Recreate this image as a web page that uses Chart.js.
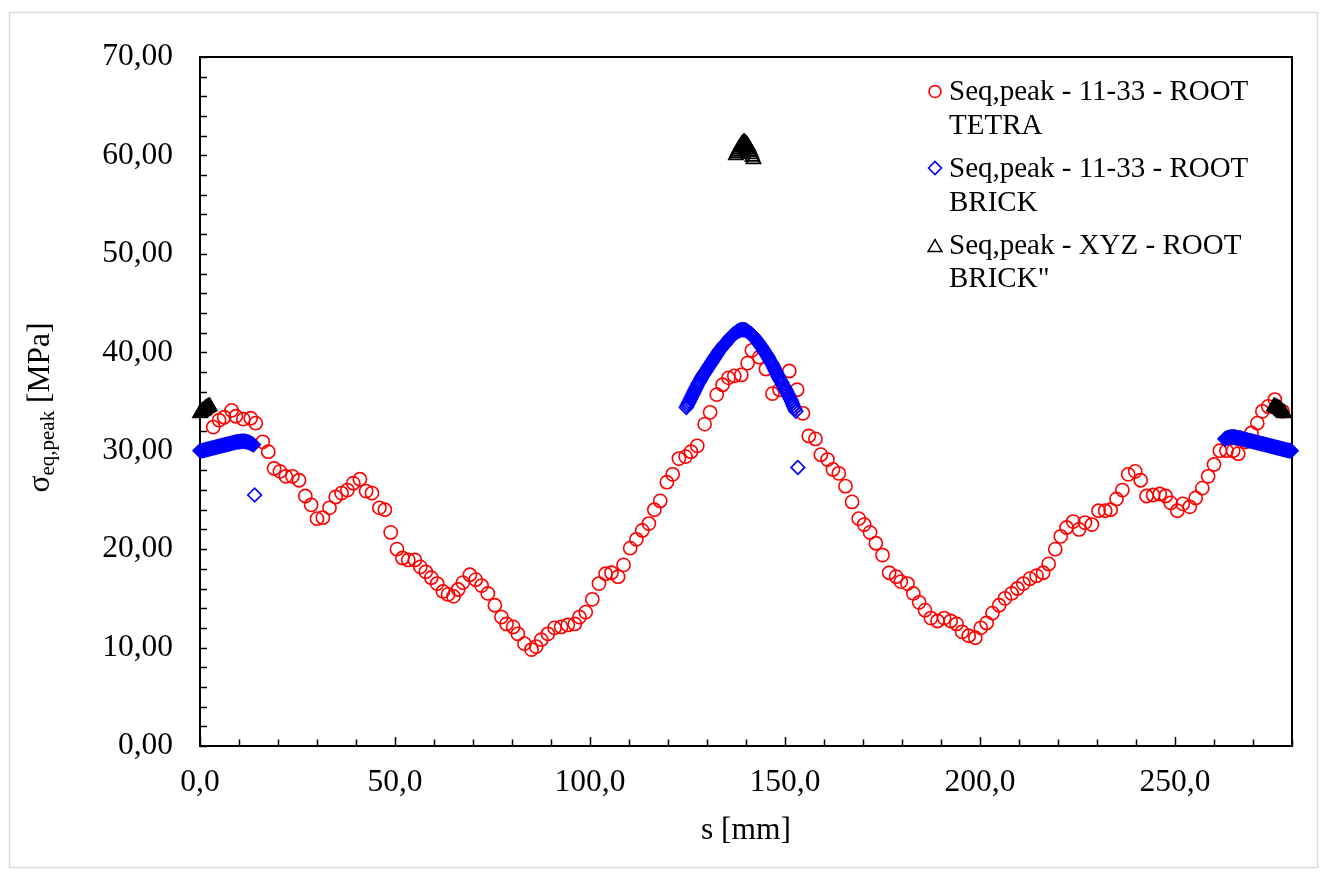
<!DOCTYPE html>
<html>
<head>
<meta charset="utf-8">
<script src="https://cdn.jsdelivr.net/npm/chart.js@4/dist/chart.umd.min.js"></script>
<style>
  html, body { margin: 0; padding: 0; background: #ffffff; }
  #wrap { width: 1327px; height: 872px; position: relative; }
</style>
</head>
<body>
<div id="wrap"><canvas id="c" width="1327" height="872"></canvas></div>
<script>
// Seq,peak along the path s, TETRA model (red circles)
const tetraS = [3.4, 4.9, 6.2, 8.1, 9.2, 11.1, 13.0, 14.3, 16.1, 17.5, 19.0, 20.5, 22.0, 23.7, 25.4, 27.0, 28.5, 30.0, 31.5, 33.2,
  34.8, 36.3, 37.8, 39.3, 41.0, 42.6, 44.1, 46.0, 47.4, 48.9, 50.5, 51.9, 53.4, 55.1, 56.5, 57.9, 59.3, 60.8, 62.3, 63.6,
  65.0, 66.2, 67.4, 69.2, 70.7, 72.2, 73.8, 75.6, 77.3, 78.6, 80.3, 81.5, 83.2, 85.0, 86.2, 87.5, 89.2, 90.9, 92.6, 94.3,
  96.1, 97.3, 98.9, 100.6, 102.3, 104.0, 105.5, 107.2, 108.6, 110.3, 111.9, 113.4, 115.1, 116.5, 118.0, 119.7, 121.2, 122.8, 124.5, 125.9,
  127.5, 129.4, 130.8, 132.5, 134.0, 135.5, 137.0, 138.8, 140.4, 141.5, 143.4, 145.1, 146.8, 148.6, 151.1, 153.1, 154.6, 156.1, 157.8, 159.2,
  160.9, 162.3, 163.8, 165.5, 167.2, 168.9, 170.3, 171.8, 173.3, 175.0, 176.7, 178.5, 179.7, 181.4, 182.9, 184.4, 185.9, 187.4, 189.1, 190.8,
  192.5, 194.0, 195.4, 197.1, 198.8, 200.2, 201.7, 203.2, 204.9, 206.4, 208.1, 209.6, 211.1, 212.8, 214.5, 216.2, 217.6, 219.3, 220.7, 222.2,
  223.9, 225.4, 226.9, 228.7, 230.4, 232.1, 233.5, 235.0, 236.5, 238.0, 239.8, 241.2, 242.7, 244.4, 246.1, 247.6, 248.9, 250.6, 252.0, 253.8,
  255.3, 257.0, 258.5, 260.0, 261.5, 263.2, 264.9, 266.2, 268.1, 269.6, 271.1, 272.4, 273.9, 275.6, 277.6];
const tetraSeq = [32.4, 33.1, 33.4, 34.1, 33.5, 33.2, 33.3, 32.8, 30.9, 29.9, 28.2, 27.9, 27.4, 27.4, 27.0, 25.4, 24.5, 23.1, 23.2, 24.2,
  25.3, 25.7, 26.0, 26.7, 27.1, 25.9, 25.7, 24.2, 24.0, 21.7, 20.0, 19.1, 18.9, 18.9, 18.2, 17.7, 17.1, 16.5, 15.7, 15.4,
  15.2, 15.9, 16.6, 17.4, 16.9, 16.3, 15.5, 14.3, 13.1, 12.4, 12.1, 11.4, 10.4, 9.8, 10.1, 10.8, 11.4, 12.0, 12.1, 12.3,
  12.4, 13.1, 13.6, 14.9, 16.5, 17.5, 17.6, 17.2, 18.4, 20.1, 21.0, 21.9, 22.6, 24.0, 24.9, 26.8, 27.6, 29.2, 29.4, 29.9,
  30.5, 32.7, 33.9, 35.7, 36.7, 37.4, 37.6, 37.7, 38.9, 40.2, 39.5, 38.3, 35.8, 36.2, 38.1, 36.2, 33.8, 31.5, 31.2, 29.6,
  29.1, 28.1, 27.7, 26.4, 24.8, 23.1, 22.5, 21.7, 20.6, 19.4, 17.6, 17.2, 16.7, 16.5, 15.5, 14.6, 13.8, 13.0, 12.7, 13.0,
  12.7, 12.4, 11.6, 11.2, 11.0, 12.0, 12.5, 13.5, 14.3, 15.0, 15.5, 16.0, 16.5, 17.0, 17.3, 17.6, 18.5, 20.0, 21.3, 22.2,
  22.8, 22.0, 22.7, 22.5, 23.9, 23.9, 24.0, 25.1, 26.0, 27.6, 27.9, 27.0, 25.4, 25.5, 25.6, 25.4, 24.7, 23.9, 24.6, 24.3,
  25.2, 26.2, 27.4, 28.6, 30.0, 30.0, 30.0, 29.7, 30.9, 31.8, 32.8, 34.0, 34.5, 35.2, 34.0];

// Seq,peak, BRICK model on the 11-33 path (blue diamonds)
const brickS = [
  0.00, 0.25, 0.50, 0.75, 1.00, 1.25, 1.50, 1.75, 2.00, 2.25, 2.50, 2.75, 3.00, 3.25, 3.50, 3.75, 4.00, 4.25, 4.50, 4.75,
  5.00, 5.25, 5.50, 5.75, 6.00, 6.25, 6.50, 6.75, 7.00, 7.25, 7.50, 7.75, 8.00, 8.25, 8.50, 8.75, 9.00, 9.25, 9.50, 9.75,
  10.00, 10.25, 10.50, 10.75, 11.00, 11.25, 11.50, 11.75, 12.00, 12.25, 12.50, 12.75, 13.00, 13.25, 13.50, 13.70, 14.00,
  124.70, 124.95, 125.20, 125.45, 125.70, 125.95, 126.20, 126.45, 126.70, 126.95, 127.20, 127.45, 127.70, 127.95, 128.20, 128.45, 128.70, 128.95, 129.20, 129.45,
  129.70, 129.95, 130.20, 130.45, 130.70, 130.95, 131.20, 131.45, 131.70, 131.95, 132.20, 132.45, 132.70, 132.95, 133.20, 133.45, 133.70, 133.95, 134.20, 134.45,
  134.70, 134.95, 135.20, 135.45, 135.70, 135.95, 136.20, 136.45, 136.70, 136.95, 137.20, 137.45, 137.70, 137.95, 138.20, 138.45, 138.70, 138.95, 139.20, 139.45,
  139.70, 139.95, 140.20, 140.45, 140.70, 140.95, 141.20, 141.45, 141.70, 141.95, 142.20, 142.45, 142.70, 142.95, 143.20, 143.45, 143.70, 143.95, 144.20, 144.45,
  144.70, 144.95, 145.20, 145.45, 145.70, 145.95, 146.20, 146.45, 146.70, 146.95, 147.20, 147.45, 147.70, 147.95, 148.20, 148.45, 148.70, 148.95, 149.20, 149.45,
  149.70, 149.95, 150.20, 150.45, 150.70, 150.95, 151.20, 151.45, 151.70, 151.95, 152.20, 152.50, 152.80, 153.30,
  262.80, 263.05, 263.30, 263.55, 263.80, 264.05, 264.30, 264.55, 264.80, 265.05, 265.30, 265.55, 265.80, 266.05, 266.30, 266.55, 266.80, 267.05, 267.30, 267.55,
  267.80, 268.05, 268.30, 268.55, 268.80, 269.05, 269.30, 269.55, 269.80, 270.05, 270.30, 270.55, 270.80, 271.05, 271.30, 271.55, 271.80, 272.05, 272.30, 272.55,
  272.80, 273.05, 273.30, 273.55, 273.80, 274.05, 274.30, 274.55, 274.80, 275.05, 275.30, 275.55, 275.80, 276.05, 276.30, 276.55, 276.80, 277.05, 277.30, 277.55,
  277.80, 278.05, 278.30, 278.55, 278.80, 279.05, 279.30, 279.55, 279.80];
const brickSeq = [
  30.00, 30.00, 30.00, 30.02, 30.05, 30.08, 30.10, 30.12, 30.15, 30.18, 30.20, 30.22, 30.25, 30.28, 30.30, 30.32, 30.35, 30.38, 30.40, 30.42,
  30.45, 30.48, 30.50, 30.52, 30.55, 30.58, 30.60, 30.62, 30.65, 30.68, 30.70, 30.72, 30.75, 30.78, 30.80, 30.82, 30.85, 30.88, 30.90, 30.90,
  30.90, 30.92, 30.95, 30.95, 30.95, 30.95, 30.95, 30.92, 30.90, 30.88, 30.85, 30.80, 30.75, 30.70, 30.65, 30.60, 25.50,
  34.40, 34.60, 34.80, 35.00, 35.20, 35.40, 35.60, 35.80, 36.00, 36.20, 36.40, 36.60, 36.80, 36.95, 37.10, 37.30, 37.50, 37.65, 37.80, 37.95,
  38.10, 38.25, 38.40, 38.55, 38.70, 38.85, 39.00, 39.15, 39.30, 39.45, 39.60, 39.75, 39.90, 40.05, 40.20, 40.30, 40.40, 40.55, 40.70, 40.80,
  40.90, 41.00, 41.10, 41.25, 41.40, 41.50, 41.60, 41.70, 41.80, 41.85, 41.90, 42.00, 42.10, 42.15, 42.20, 42.25, 42.30, 42.30, 42.30, 42.30,
  42.30, 42.25, 42.20, 42.10, 42.00, 41.95, 41.90, 41.80, 41.70, 41.60, 41.50, 41.35, 41.20, 41.10, 41.00, 40.85, 40.70, 40.55, 40.40, 40.25,
  40.10, 39.95, 39.80, 39.65, 39.50, 39.30, 39.10, 38.95, 38.80, 38.60, 38.40, 38.20, 38.00, 37.80, 37.60, 37.40, 37.20, 37.05, 36.90, 36.70,
  36.50, 36.35, 36.20, 36.00, 35.80, 35.60, 35.40, 35.20, 35.00, 34.75, 34.50, 34.25, 34.00, 28.30,
  31.20, 31.25, 31.30, 31.32, 31.35, 31.38, 31.40, 31.40, 31.40, 31.40, 31.40, 31.38, 31.35, 31.32, 31.30, 31.30, 31.28, 31.25, 31.20, 31.18,
  31.15, 31.12, 31.10, 31.08, 31.05, 31.02, 31.00, 30.98, 30.95, 30.92, 30.90, 30.88, 30.85, 30.82, 30.80, 30.78, 30.75, 30.72, 30.70, 30.68,
  30.65, 30.62, 30.60, 30.58, 30.55, 30.52, 30.50, 30.48, 30.45, 30.42, 30.40, 30.38, 30.35, 30.32, 30.30, 30.28, 30.25, 30.22, 30.20, 30.18,
  30.15, 30.12, 30.10, 30.08, 30.05, 30.02, 30.00, 30.00, 30.00];

// Seq,peak, BRICK model on the XYZ path (black triangles)
const xyzS = [0.00, 0.25, 0.50, 0.75, 1.00, 1.25, 1.50, 1.75, 2.00, 2.25, 2.50,
  137.40, 137.65, 137.90, 138.15, 138.40, 138.65, 138.90, 139.15, 139.40, 139.65, 139.90, 140.15, 140.40, 140.65, 140.90, 141.15, 141.40, 141.65, 141.90,
  275.40, 275.65, 275.90, 276.15, 276.40, 276.65, 276.90, 277.15, 277.40, 277.70, 278.00];
const xyzSeq = [33.80, 33.90, 34.00, 34.05, 34.10, 34.20, 34.30, 34.35, 34.40, 34.45, 34.50,
  60.00, 60.20, 60.40, 60.60, 60.80, 60.95, 61.10, 61.20, 61.30, 61.30, 61.20, 61.10, 61.00, 60.80, 60.60, 60.35, 60.10, 59.85, 59.60,
  34.50, 34.45, 34.40, 34.35, 34.30, 34.25, 34.20, 34.10, 34.00, 33.90, 33.80];

// Axis ticks
const xTickValues = [0, 50, 100, 150, 200, 250];
const yTickValues = [0, 10, 20, 30, 40, 50, 60, 70];
const xMinorStep = 10;
const yMinorStep = 2;

// Legend entries (two lines each)
const legendLines = [
  ['Seq,peak - 11-33 - ROOT', 'TETRA'],
  ['Seq,peak - 11-33 - ROOT', 'BRICK'],
  ['Seq,peak - XYZ - ROOT', 'BRICK"']
];

const SERIF = '"Liberation Serif", "Times New Roman", serif';
const TICK_FONT = 31.5;
const LEGEND_FONT = 29;

const toPoints = (xs, ys) => xs.map((x, i) => ({ x: x, y: ys[i] }));
const fmt = (v, d) => v.toFixed(d).replace('.', ',');

const styles = [
  { pointStyle: 'circle', color: '#ff0000', radius: 6.6, legendRadius: 6, width: 1.6, legendWidth: 1.6 },
  { pointStyle: 'rectRot', color: '#0000ff', radius: 6.8, legendRadius: 6.5, width: 1.7, legendWidth: 1.6 },
  { pointStyle: 'triangle', color: '#000000', radius: 8, legendRadius: 8, width: 1.8, legendWidth: 1.5 }
];

// Page background and light frame
const framePlugin = {
  id: 'frame',
  beforeDraw(chart) {
    const ctx = chart.ctx;
    ctx.save();
    ctx.fillStyle = '#ffffff';
    ctx.fillRect(0, 0, chart.width, chart.height);
    ctx.strokeStyle = '#d9d9d9';
    ctx.lineWidth = 1.5;
    ctx.strokeRect(9.5, 12.5, 1308, 855);
    ctx.restore();
  }
};

// Plot box with inward major/minor tick marks
const boxPlugin = {
  id: 'plotBox',
  beforeDatasetsDraw(chart) {
    const ctx = chart.ctx;
    const a = chart.chartArea;
    const xs = chart.scales.x, ys = chart.scales.y;
    ctx.save();
    ctx.strokeStyle = '#000000';
    ctx.lineWidth = 1.5;
    for (let v = ys.min; v <= ys.max + 1e-9; v += yMinorStep) {
      const py = Math.round(ys.getPixelForValue(v)) + 0.5;
      ctx.beginPath();
      ctx.moveTo(a.left, py);
      ctx.lineTo(a.left + 7, py);
      ctx.stroke();
    }
    for (let v = xs.min; v <= xs.max + 1e-9; v += xMinorStep) {
      const px = Math.round(xs.getPixelForValue(v)) + 0.5;
      const len = (v % 50 === 0) ? 9 : 6.5;
      ctx.beginPath();
      ctx.moveTo(px, a.bottom);
      ctx.lineTo(px, a.bottom - len);
      ctx.stroke();
    }
    ctx.lineWidth = 2;
    ctx.strokeRect(a.left, a.top, a.right - a.left, a.bottom - a.top);
    ctx.restore();
  }
};

// Rotated y-axis title with subscript
const yTitlePlugin = {
  id: 'yTitle',
  afterDraw(chart) {
    const ctx = chart.ctx;
    const a = chart.chartArea;
    const big = TICK_FONT + 'px ' + SERIF;
    const small = '21px ' + SERIF;
    const parts = [
      { t: '\u03c3', f: big, dy: 0 },
      { t: 'eq,peak', f: small, dy: 5 },
      { t: ' [MPa]', f: big, dy: 0 }
    ];
    ctx.save();
    let total = 0;
    parts.forEach(p => { ctx.font = p.f; p.w = ctx.measureText(p.t).width; total += p.w; });
    ctx.translate(49, (a.top + a.bottom) / 2 + 6);
    ctx.rotate(-Math.PI / 2);
    ctx.fillStyle = '#000000';
    ctx.textBaseline = 'alphabetic';
    ctx.textAlign = 'left';
    let u = -total / 2;
    parts.forEach(p => { ctx.font = p.f; ctx.fillText(p.t, u, p.dy); u += p.w; });
    ctx.restore();
  }
};

// Legend block in the upper right of the plot
const legendPlugin = {
  id: 'sideLegend',
  afterDraw(chart) {
    const ctx = chart.ctx;
    const markerX = 935, textX = 949;
    const markerY = [91.5, 168, 247.5];
    const baselines = [[100, 133.5], [177, 210.5], [253.5, 287]];
    ctx.save();
    legendLines.forEach((lines, i) => {
      const st = styles[i];
      ctx.strokeStyle = st.color;
      ctx.fillStyle = 'rgba(0,0,0,0)';
      ctx.lineWidth = st.legendWidth;
      Chart.helpers.drawPoint(ctx, { pointStyle: st.pointStyle, rotation: 0, radius: st.legendRadius, borderWidth: st.legendWidth }, markerX, markerY[i]);
      ctx.fillStyle = '#000000';
      ctx.font = LEGEND_FONT + 'px ' + SERIF;
      ctx.textAlign = 'left';
      ctx.textBaseline = 'alphabetic';
      lines.forEach((ln, j) => ctx.fillText(ln, textX, baselines[i][j]));
    });
    ctx.restore();
  }
};

const makeSet = (label, xs, ys, st, order) => ({
  label: label,
  data: toPoints(xs, ys),
  pointStyle: st.pointStyle,
  pointRadius: st.radius,
  pointHoverRadius: st.radius,
  borderColor: st.color,
  backgroundColor: 'rgba(0,0,0,0)',
  pointBorderWidth: st.width,
  showLine: false,
  clip: false,
  order: order
});

new Chart(document.getElementById('c'), {
  type: 'scatter',
  data: {
    datasets: [
      makeSet(legendLines[0].join(' '), tetraS, tetraSeq, styles[0], 2),
      makeSet(legendLines[1].join(' '), brickS, brickSeq, styles[1], 1),
      makeSet(legendLines[2].join(' '), xyzS, xyzSeq, styles[2], 0)
    ]
  },
  options: {
    responsive: false,
    devicePixelRatio: 1,
    animation: false,
    events: [],
    layout: { padding: { top: 57, right: 35, left: 0, bottom: 0 } },
    plugins: { legend: { display: false }, tooltip: { enabled: false }, title: { display: false } },
    scales: {
      x: {
        type: 'linear',
        position: 'bottom',
        min: 0,
        max: 280,
        afterFit: s => { s.height = 126; },
        afterBuildTicks: s => { s.ticks = xTickValues.map(v => ({ value: v })); },
        grid: { display: false, drawTicks: false },
        border: { display: false },
        ticks: {
          padding: 18,
          autoSkip: false,
          maxRotation: 0,
          color: '#000000',
          font: { family: SERIF, size: TICK_FONT },
          callback: v => fmt(v, 1)
        },
        title: {
          display: true,
          text: 's [mm]',
          color: '#000000',
          font: { family: SERIF, size: TICK_FONT },
          padding: { top: 0, bottom: 22 }
        }
      },
      y: {
        type: 'linear',
        position: 'left',
        min: 0,
        max: 70,
        afterFit: s => { s.width = 200; },
        afterBuildTicks: s => { s.ticks = yTickValues.map(v => ({ value: v })); },
        grid: { display: false, drawTicks: false },
        border: { display: false },
        ticks: {
          padding: 27,
          color: '#000000',
          font: { family: SERIF, size: TICK_FONT },
          callback: v => fmt(v, 2)
        }
      }
    }
  },
  plugins: [framePlugin, boxPlugin, yTitlePlugin, legendPlugin]
});
</script>
</body>
</html>
